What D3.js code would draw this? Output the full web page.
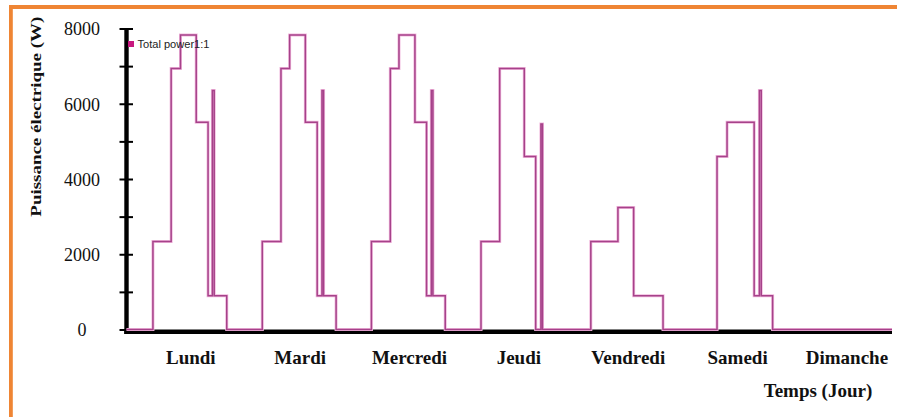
<!DOCTYPE html>
<html>
<head>
<meta charset="utf-8">
<script src="https://cdn.jsdelivr.net/npm/d3@7"></script>
<style>
  html, body { margin: 0; padding: 0; background: #fff; }
  svg { display: block; }
</style>
</head>
<body>
<svg id="chart" width="897" height="417"></svg>
<script>
// Week of electrical load: each day is a list of [hour, watts] change points (stepwise profile)
const days = ["Lundi", "Mardi", "Mercredi", "Jeudi", "Vendredi", "Samedi", "Dimanche"];
const lundi    = [[0, 0], [5.8, 2340], [9.8, 6940], [11.85, 7830], [15.3, 5510], [17.9, 900], [18.85, 6350], [19.25, 900], [22.0, 0]];
const mardi    = [[0, 0], [5.8, 2340], [9.9, 6940], [11.8, 7830], [15.25, 5510], [17.85, 900], [18.9, 6350], [19.25, 900], [22.0, 0]];
const mercredi = [[0, 0], [5.75, 2340], [9.9, 6940], [11.8, 7830], [15.3, 5510], [17.85, 900], [18.9, 6350], [19.25, 900], [21.95, 0]];
const jeudi    = [[0, 0], [5.8, 2340], [9.9, 6940], [15.3, 4600], [17.8, 0], [18.95, 5460], [19.3, 0]];
const vendredi = [[0, 0], [5.9, 2340], [11.85, 3240], [15.3, 900], [21.75, 0]];
const samedi   = [[0, 0], [9.6, 4600], [11.8, 5510], [17.75, 900], [18.9, 6350], [19.3, 900], [21.8, 0]];
const dimanche = [[0, 0]];
const profiles = [lundi, mardi, mercredi, jeudi, vendredi, samedi, dimanche];

const yTicks = [0, 1000, 2000, 3000, 4000, 5000, 6000, 7000, 8000];
const yLabelled = [0, 2000, 4000, 6000, 8000];
const seriesName = "Total power1:1";
const yTitle = "Puissance électrique (W)";
const xTitle = "Temps (Jour)";

const svg = d3.select("#chart");

// Frame: orange rule along the top and the left side
svg.append("rect").attr("x", 9).attr("y", 5).attr("width", 888).attr("height", 4).attr("fill", "#ef8534");
svg.append("rect").attr("x", 9).attr("y", 5).attr("width", 3.8).attr("height", 412).attr("fill", "#ef8534");

const x = d3.scaleLinear().domain([0, 168]).range([126.5, 892]);
const y = d3.scaleLinear().domain([0, 8000]).range([329.5, 28.5]);

// Continuous hourly series across the week
const series = [];
profiles.forEach((p, d) => p.forEach(([h, w]) => series.push([d * 24 + h, w])));
series.push([168, 0]);

const line = d3.line()
  .x(d => x(d[0]))
  .y(d => y(d[1]))
  .curve(d3.curveStepAfter);

// X axis with day names
const xAxis = d3.axisBottom(x)
  .tickValues(days.map((_, i) => i * 24 + 14))
  .tickFormat((_, i) => days[i])
  .tickSize(0)
  .tickSizeOuter(0)
  .tickPadding(19);
const gx = svg.append("g").attr("transform", "translate(0,331.7)").call(xAxis);
gx.select(".domain").attr("stroke", "#000").attr("stroke-width", 4.4)
  .attr("d", `M${x(0) - 2.2},0H${x(168)}`);
gx.selectAll("text")
  .attr("font-family", "'Liberation Serif', 'Times New Roman', serif")
  .attr("font-weight", "bold")
  .attr("font-size", 19)
  .attr("fill", "#111");

// Y axis: ticks cross the axis line, labels on every second tick
const yAxis = d3.axisLeft(y)
  .tickValues(yTicks)
  .tickSize(7)
  .tickSizeOuter(0)
  .tickFormat(v => yLabelled.includes(v) ? String(v) : "");
const gy = svg.append("g").attr("transform", `translate(${x(0)},0)`).call(yAxis);
gy.select(".domain").attr("stroke", "#000").attr("stroke-width", 4.4)
  .attr("d", `M0,${y(8000) - 0.5}V${y(0) + 4.5}`);
gy.selectAll(".tick line").attr("x1", 6.5).attr("x2", -7).attr("stroke", "#000").attr("stroke-width", 2);
gy.selectAll(".tick text")
  .attr("x", -44.5)
  .attr("dy", "0.36em")
  .attr("text-anchor", "middle")
  .attr("font-family", "'Liberation Serif', 'Times New Roman', serif")
  .attr("font-size", 18)
  .attr("fill", "#111");

// Load curve: soft pink halo under a purple core
svg.append("path").datum(series)
  .attr("d", line).attr("fill", "none")
  .attr("stroke", "#f1b9dd").attr("stroke-width", 3).attr("stroke-linejoin", "miter");
svg.append("path").datum(series)
  .attr("d", line).attr("fill", "none")
  .attr("stroke", "#a6428a").attr("stroke-width", 1.5).attr("stroke-linejoin", "miter");

// Legend
svg.append("rect").attr("x", 128).attr("y", 41).attr("width", 6).attr("height", 6).attr("fill", "#c8187f");
svg.append("text").attr("x", 137.5).attr("y", 48)
  .attr("font-family", "'Liberation Sans', Arial, sans-serif")
  .attr("font-size", 10.5)
  .attr("fill", "#222")
  .attr("textLength", 72).attr("lengthAdjust", "spacingAndGlyphs")
  .text(seriesName);

// Axis titles
svg.append("text")
  .attr("transform", "translate(41,116.7) rotate(-90)")
  .attr("text-anchor", "middle")
  .attr("font-family", "'Liberation Serif', 'Times New Roman', serif")
  .attr("font-weight", "bold")
  .attr("font-size", 14)
  .attr("textLength", 200).attr("lengthAdjust", "spacingAndGlyphs")
  .attr("fill", "#111")
  .text(yTitle);

svg.append("text")
  .attr("x", 818).attr("y", 396.7)
  .attr("text-anchor", "middle")
  .attr("font-family", "'Liberation Serif', 'Times New Roman', serif")
  .attr("font-weight", "bold")
  .attr("font-size", 19)
  .attr("fill", "#111")
  .text(xTitle);
</script>
</body>
</html>
